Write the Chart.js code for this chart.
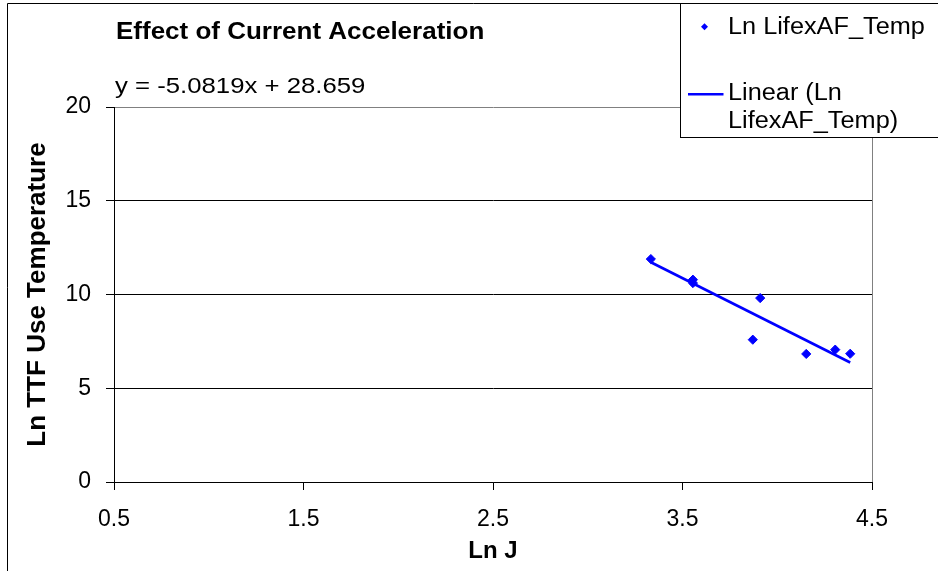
<!DOCTYPE html>
<html>
<head>
<meta charset="utf-8">
<script src="https://cdn.jsdelivr.net/npm/chart.js@4/dist/chart.umd.min.js"></script>
<style>
  html, body { margin: 0; padding: 0; background: #ffffff; }
  #wrap { width: 938px; height: 571px; position: relative; }
</style>
</head>
<body>
<div id="wrap"><canvas id="chart" width="938" height="571"></canvas></div>
<script>
// Measured points: ln of current density vs. ln of time-to-fail at use temperature
const lnJ   = [3.333, 3.555, 3.555, 3.871, 3.910, 4.153, 4.306, 4.385];
const lnTTF = [11.89, 10.79, 10.61, 7.59, 9.81, 6.83, 7.06, 6.84];

// Axis ticks
const xTicks = [0.5, 1.5, 2.5, 3.5, 4.5];
const yTicks = [0, 5, 10, 15, 20];

// Linear trendline coefficients (as printed on the chart)
const slope = -5.0819;
const intercept = 28.659;

// Text
const titleText = 'Effect of Current Acceleration';
const equationText = 'y = -5.0819x + 28.659';
const seriesName = 'Ln LifexAF_Temp';
const trendNameLines = ['Linear (Ln', 'LifexAF_Temp)'];
const xTitle = 'Ln J';
const yTitle = 'Ln TTF Use Temperature';

const BLUE = '#0000ff';
const FONT = '"Liberation Sans", Arial, sans-serif';

const points = lnJ.map((x, i) => ({ x: x, y: lnTTF[i] }));
const xMin = Math.min(...lnJ), xMax = Math.max(...lnJ);
const trendPoints = [xMin, xMax].map(x => ({ x: x, y: slope * x + intercept }));

// Draws text stretched horizontally by sx
function wideText(ctx, text, x, y, font, sx) {
  ctx.save();
  ctx.font = font;
  ctx.fillStyle = '#000';
  ctx.textAlign = 'left';
  ctx.textBaseline = 'alphabetic';
  ctx.translate(x, y);
  ctx.scale(sx, 1);
  ctx.fillText(text, 0, 0);
  ctx.restore();
}

// Frame, title, equation and legend box
const decorations = {
  id: 'decorations',
  afterDraw(chart) {
    const ctx = chart.ctx;
    ctx.save();
    // outer chart frame (left and top edges visible)
    ctx.strokeStyle = '#000';
    ctx.lineWidth = 1;
    ctx.beginPath();
    ctx.moveTo(7.5, 580);
    ctx.lineTo(7.5, 3.5);
    ctx.lineTo(945, 3.5);
    ctx.stroke();

    wideText(ctx, titleText, 116, 38.5, 'bold 23px ' + FONT, 1.13);
    wideText(ctx, equationText, 115, 92.5, '22px ' + FONT, 1.17);

    // legend box
    ctx.fillStyle = '#fff';
    ctx.fillRect(680.5, 3.5, 270, 134);
    ctx.strokeStyle = '#000';
    ctx.strokeRect(680.5, 3.5, 270, 134);

    // series marker
    ctx.fillStyle = BLUE;
    ctx.beginPath();
    ctx.moveTo(704.5, 23.2);
    ctx.lineTo(708, 26.7);
    ctx.lineTo(704.5, 30.2);
    ctx.lineTo(701, 26.7);
    ctx.closePath();
    ctx.fill();

    // trendline sample
    ctx.strokeStyle = BLUE;
    ctx.lineWidth = 2.5;
    ctx.beginPath();
    ctx.moveTo(688, 94.3);
    ctx.lineTo(723.5, 94.3);
    ctx.stroke();

    wideText(ctx, seriesName, 728, 33.5, '23px ' + FONT, 1.1);
    wideText(ctx, trendNameLines[0], 728, 100, '23px ' + FONT, 1.1);
    wideText(ctx, trendNameLines[1], 728, 127.8, '23px ' + FONT, 1.1);
    ctx.restore();
  }
};

new Chart(document.getElementById('chart').getContext('2d'), {
  type: 'scatter',
  data: {
    datasets: [
      {
        label: seriesName,
        data: points,
        pointStyle: 'rectRot',
        pointRadius: 4.6,
        pointBorderWidth: 1,
        backgroundColor: BLUE,
        borderColor: BLUE,
        showLine: false,
        order: 1
      },
      {
        label: trendNameLines.join(' '),
        data: trendPoints,
        showLine: true,
        pointRadius: 0,
        borderColor: BLUE,
        borderWidth: 2.6,
        fill: false,
        order: 0
      }
    ]
  },
  options: {
    responsive: false,
    animation: false,
    devicePixelRatio: 1,
    layout: { padding: { left: 8, top: 107, right: 66, bottom: 0 } },
    plugins: {
      legend: { display: false },
      title: { display: false },
      tooltip: { enabled: false }
    },
    scales: {
      x: {
        type: 'linear',
        min: 0.5,
        max: 4.5,
        afterBuildTicks: s => { s.ticks = xTicks.map(v => ({ value: v })); },
        afterFit: s => { s.height = 89; },
        grid: {
          drawOnChartArea: true,
          color: c => (c.tick && c.tick.value === 4.5) ? '#808080' : 'rgba(0,0,0,0)',
          tickColor: '#000',
          tickLength: 8,
          lineWidth: 1
        },
        border: { display: true, color: '#000', width: 1 },
        ticks: {
          color: '#000',
          font: { family: FONT, size: 23 },
          padding: 16,
          maxRotation: 0,
          callback: v => String(v)
        },
        title: {
          display: true,
          text: xTitle,
          color: '#000',
          font: { family: FONT, size: 24, weight: 'bold' },
          padding: { top: 0, bottom: 5 }
        }
      },
      y: {
        type: 'linear',
        min: 0,
        max: 20,
        afterBuildTicks: s => { s.ticks = yTicks.map(v => ({ value: v })); },
        afterFit: s => { s.width = 106; },
        grid: {
          color: c => (c.tick && c.tick.value === 20) ? '#808080' : '#000',
          tickColor: '#000',
          tickLength: 8,
          lineWidth: 1
        },
        border: { display: true, color: '#000', width: 1 },
        ticks: {
          color: '#000',
          font: { family: FONT, size: 23 },
          padding: 15,
          callback: v => String(v)
        },
        title: {
          display: true,
          text: yTitle,
          color: '#000',
          font: { family: FONT, size: 26, weight: 'bold' },
          padding: { top: 14, bottom: 0 }
        }
      }
    }
  },
  plugins: [decorations]
});
</script>
</body>
</html>
